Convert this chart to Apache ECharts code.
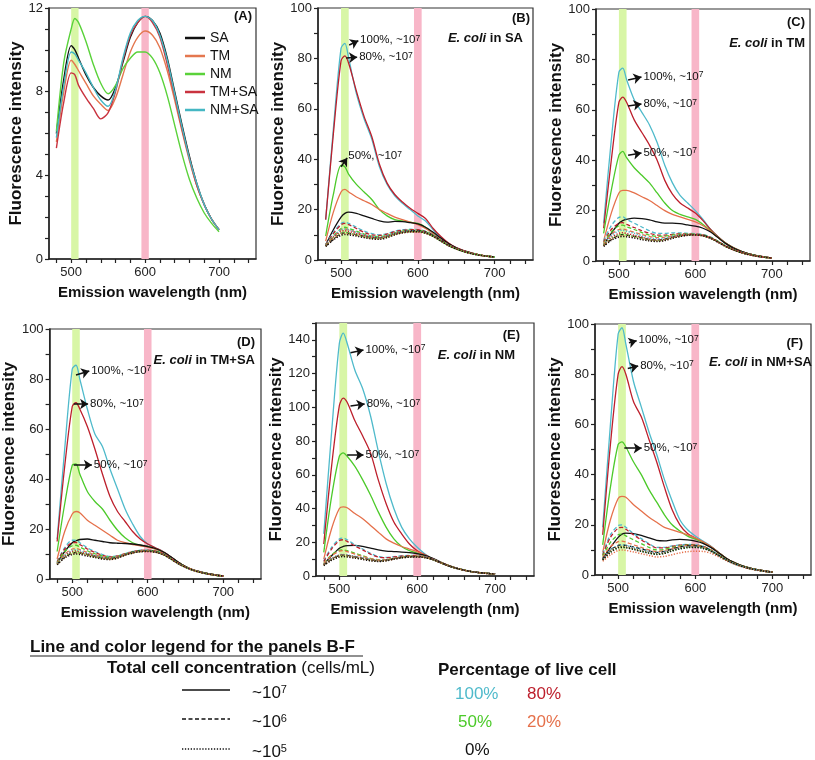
<!DOCTYPE html>
<html><head><meta charset="utf-8">
<script src="https://cdn.jsdelivr.net/npm/echarts@6.0.0/dist/echarts.min.js"></script>
<style>html,body{margin:0;padding:0;background:#fff}#c{width:815px;height:760px}</style>
</head><body><div id="c"></div>
<script>
// ---------- DATA ----------
const wavelength = [480,490,500,505,510,520,530,540,550,560,570,580,590,600,610,620,630,640,650,660,670,680,690,700];
const xTickValues = [480,500,520,540,560,580,600,620,640,660,680,700,720,740];
const xLabelValues = [500,600,700];
const bandGreen = [500,510];
const bandPink = [595,605];

// Panel A
const A_SA   = [6.0,8.6,10.2,10.0,9.6,8.8,8.2,7.8,7.6,8.2,9.4,10.6,11.3,11.6,11.4,10.8,9.6,8.0,6.4,4.9,3.6,2.6,1.9,1.4];
const A_TM   = [5.6,8.0,9.5,9.3,9.0,8.4,7.8,7.4,7.1,7.7,8.8,9.9,10.6,10.9,10.7,10.1,9.0,7.6,6.1,4.7,3.5,2.6,1.9,1.4];
const A_NM   = [6.1,9.4,11.0,11.5,11.3,10.4,9.3,8.4,7.9,8.3,9.1,9.6,9.9,9.9,9.6,8.9,7.8,6.4,5.0,3.8,2.9,2.2,1.7,1.3];
const A_TMSA = [5.3,7.5,8.9,8.8,8.3,7.7,7.2,6.7,7.0,8.0,9.5,10.7,11.3,11.6,11.3,10.6,9.3,7.8,6.2,4.8,3.5,2.6,1.9,1.4];
const A_NMSA = [5.8,8.3,9.9,9.8,9.5,8.9,8.2,7.6,7.3,8.1,9.6,10.8,11.4,11.6,11.4,10.7,9.5,7.9,6.3,4.8,3.6,2.6,1.9,1.4];
const A_names = ['SA','TM','NM','TM+SA','NM+SA'];

// Panel B (E. coli in SA)
const B_c100_s = [16,52,84,86,80,66,56,48,37,30,25.5,22.5,20,17.5,15.5,12,9,6.5,4.8,3.6,2.7,2,1.5,1.2];
const B_r80_s  = [16,50,79,81,78,67,57,49,38,30.5,26,23,20.5,18.5,16.5,12.5,9.3,6.7,4.9,3.7,2.8,2,1.5,1.2];
const B_g50_s  = [9.5,26,37.5,37,34,30,27,24,20,17.5,16,15.5,15,14.5,13,10.5,8.2,6.2,4.6,3.5,2.7,2,1.5,1.2];
const B_o20_s  = [7.5,19,27,28,27,25,23.5,22,20,18.5,17,16,15,14,12.5,10.5,8.2,6.2,4.6,3.5,2.7,2,1.5,1.2];
const B_k0_s   = [6,12,17,18.5,19,18.5,17.5,16.5,15.5,15,15.3,15.2,14.8,14.3,13,11,8.7,6.5,4.8,3.6,2.7,2,1.5,1.2];
const B_c100_d = [6,11,14.5,15,14.5,13,11.5,10.5,10,10.5,11.5,12,12.2,12,11.5,10,8,6,4.6,3.5,2.6,2,1.5,1.2];
const B_r80_d  = [6,10.5,14,14.5,14,12.5,11,10,9.8,10.3,11.3,11.8,12,12,11.3,9.8,7.9,6,4.6,3.5,2.6,2,1.5,1.2];
const B_g50_d  = [5.8,9.5,12.5,13,12.5,11.5,10.3,9.5,9.3,9.8,10.8,11.5,11.8,11.7,11.2,9.7,7.8,5.9,4.5,3.4,2.6,2,1.5,1.2];
const B_o20_d  = [5.8,9,12,12.3,12,11,10,9.3,9,9.6,10.6,11.3,11.6,11.5,11,9.6,7.7,5.9,4.5,3.4,2.6,2,1.5,1.2];
const B_k0_d   = [5.5,8.2,10.5,10.8,10.6,10,9.5,9,8.8,9.5,10.6,11.3,11.6,11.6,11.1,9.7,7.8,5.9,4.5,3.4,2.6,2,1.5,1.2];
const B_c100_t = [5.8,9.5,12,12.3,12,11,10,9.3,9,9.6,10.6,11.2,11.5,11.4,10.9,9.5,7.6,5.8,4.4,3.4,2.6,2,1.5,1.2];
const B_r80_t  = [5.7,9,11.3,11.6,11.3,10.5,9.6,9,8.8,9.4,10.4,11,11.3,11.3,10.8,9.4,7.6,5.8,4.4,3.4,2.6,2,1.5,1.2];
const B_g50_t  = [5.6,8.5,10.6,11,10.7,10,9.3,8.7,8.5,9.2,10.2,10.9,11.2,11.2,10.7,9.4,7.5,5.7,4.4,3.3,2.6,2,1.5,1.2];
const B_o20_t  = [5.5,8.2,10.2,10.5,10.3,9.7,9,8.5,8.3,9,10,10.7,11,11,10.6,9.3,7.5,5.7,4.4,3.3,2.5,1.9,1.5,1.2];
const B_k0_t   = [5.4,8,9.8,10.1,10,9.5,8.9,8.4,8.2,8.9,10,10.8,11.2,11.2,10.7,9.4,7.5,5.7,4.4,3.3,2.5,1.9,1.5,1.2];

// Panel C (E. coli in TM)
const C_c100_s = [15,48,75,76.5,72,64,59,54,47,38,31,26,23,20,16.5,12.5,9.5,7,5.2,3.8,2.8,2.1,1.6,1.2];
const C_r80_s  = [13,40,63,65,63,56,51,46,40,32,26.5,23,21,19,16,12.5,9.5,7,5.2,3.8,2.8,2.1,1.6,1.2];
const C_g50_s  = [11,28,42,43.5,41,37,34,31,27,23,20,18.5,17.5,16.5,14.5,12,9.3,7,5.2,3.8,2.8,2.1,1.6,1.2];
const C_o20_s  = [8,19,27,28,28,27,25.5,24,22,20,18.5,17.5,16.5,15.5,14,11.8,9.3,7,5.2,3.8,2.8,2.1,1.6,1.2];
const C_k0_s   = [6.5,11,15,16,16.5,17,16.8,16.3,15.5,15,15,14.8,14.3,13.8,13,11.5,9.2,6.9,5.1,3.8,2.8,2.1,1.6,1.2];
const C_c100_d = [8,14,17.3,17.5,16.5,15,13.5,12,11,11,11.2,11.2,11,10.8,10.5,9.5,7.8,6,4.6,3.5,2.6,2,1.5,1.2];
const C_r80_d  = [7.5,12.5,15,15.2,14.5,13.3,12,11,10.3,10.3,10.6,10.8,10.8,10.7,10.4,9.4,7.7,5.9,4.6,3.5,2.6,2,1.5,1.2];
const C_g50_d  = [7,11.5,14,14.2,13.6,12.5,11.3,10.3,9.8,9.9,10.3,10.6,10.7,10.6,10.3,9.3,7.7,5.9,4.5,3.4,2.6,2,1.5,1.2];
const C_o20_d  = [6.8,10.5,12.5,12.7,12.3,11.4,10.5,9.7,9.3,9.5,10,10.4,10.6,10.5,10.2,9.2,7.6,5.8,4.5,3.4,2.6,2,1.5,1.2];
const C_k0_d   = [6,8.5,10.3,10.5,10.3,9.8,9.2,8.6,8.3,8.7,9.5,10.2,10.5,10.5,10.2,9.2,7.6,5.8,4.5,3.4,2.6,2,1.5,1.2];
const C_c100_t = [6.5,10,12,12.2,11.8,11,10,9.2,8.8,9,9.7,10.2,10.5,10.5,10.1,9.1,7.5,5.8,4.4,3.4,2.6,2,1.5,1.2];
const C_r80_t  = [6.3,9.3,11,11.2,10.9,10.2,9.4,8.7,8.3,8.6,9.4,10,10.4,10.4,10,9.1,7.5,5.8,4.4,3.4,2.6,2,1.5,1.2];
const C_g50_t  = [6.2,8.8,10.3,10.5,10.3,9.7,9,8.4,8,8.4,9.2,9.9,10.3,10.3,10,9,7.5,5.7,4.4,3.3,2.6,2,1.5,1.2];
const C_o20_t  = [6,8.5,9.8,10,9.8,9.3,8.7,8.1,7.8,8.2,9.1,9.8,10.2,10.3,10,9,7.4,5.7,4.4,3.3,2.5,1.9,1.5,1.2];
const C_k0_t   = [5.8,8.2,9.5,9.7,9.6,9.1,8.5,8,7.7,8.1,9,9.7,10.2,10.3,10,9,7.4,5.7,4.4,3.3,2.5,1.9,1.5,1.2];

// Panel D (E. coli in TM+SA)
const D_c100_s = [16,52,84,85.5,80,68,58,53,44,36,28,22,17,14,12.5,11,9,6.8,5,3.7,2.8,2.1,1.6,1.2];
const D_r80_s  = [15,45,69,70.5,68,61,52,42,33,27,23,19,16,14,12.5,11,9,6.8,5,3.7,2.8,2.1,1.6,1.2];
const D_g50_s  = [11,30,45.5,46,42,35,31,28,23.5,19.5,16.5,14.5,13.5,13,12,10.8,8.9,6.8,5,3.7,2.8,2.1,1.6,1.2];
const D_o20_s  = [8,19,26,27,26.5,23.5,21.5,19.5,17.5,15.5,14.5,13.8,13.3,12.8,12,10.8,8.9,6.8,5,3.7,2.8,2.1,1.6,1.2];
const D_k0_s   = [6.5,11,14.5,15.3,15.8,16,15.5,15,14.5,14.3,14.2,14,13.6,13,12.2,10.9,9,6.8,5,3.7,2.8,2.1,1.6,1.2];
const D_c100_d = [7,12.5,15.5,15.5,14.5,12.5,11,9.8,9,9.3,10.2,11,11.5,11.5,11.2,10.2,8.4,6.4,4.8,3.6,2.7,2,1.5,1.2];
const D_r80_d  = [6.8,12,14.5,14.6,13.8,12,10.6,9.5,8.8,9.2,10.1,10.9,11.4,11.5,11.2,10.2,8.4,6.4,4.8,3.6,2.7,2,1.5,1.2];
const D_g50_d  = [6.5,11,13.3,13.5,12.8,11.3,10.1,9.2,8.6,9,10,10.8,11.3,11.4,11.1,10.1,8.3,6.3,4.7,3.5,2.7,2,1.5,1.2];
const D_o20_d  = [6.3,10,12,12.2,11.8,10.7,9.7,8.9,8.4,8.9,9.9,10.7,11.2,11.3,11,10,8.3,6.3,4.7,3.5,2.7,2,1.5,1.2];
const D_k0_d   = [6,8.8,10.4,10.6,10.4,9.8,9.1,8.5,8.2,8.8,9.8,10.7,11.2,11.3,11,10,8.3,6.3,4.7,3.5,2.7,2,1.5,1.2];
const D_c100_t = [6.2,9.5,11.5,11.7,11.3,10.3,9.4,8.7,8.3,8.8,9.8,10.6,11.1,11.2,10.9,9.9,8.2,6.2,4.7,3.5,2.7,2,1.5,1.2];
const D_r80_t  = [6,9.2,11,11.2,10.8,10,9.2,8.5,8.1,8.7,9.7,10.5,11,11.1,10.8,9.9,8.2,6.2,4.7,3.5,2.7,2,1.5,1.2];
const D_g50_t  = [5.9,8.9,10.5,10.7,10.4,9.7,8.9,8.3,8,8.6,9.6,10.4,11,11.1,10.8,9.8,8.1,6.2,4.7,3.5,2.6,2,1.5,1.2];
const D_o20_t  = [5.8,8.6,10.1,10.3,10.1,9.4,8.7,8.1,7.8,8.4,9.5,10.4,10.9,11,10.7,9.8,8.1,6.2,4.7,3.5,2.6,2,1.5,1.2];
const D_k0_t   = [5.7,8.4,9.8,10,9.8,9.2,8.6,8,7.8,8.4,9.5,10.4,10.9,11,10.7,9.8,8.1,6.2,4.7,3.5,2.6,2,1.5,1.2];

// Panel E (E. coli in NM)
const E_c100_s = [25,85,138,144,138,122,111,95,74,55,40,29,22,17,13,10,8,6.2,4.6,3.5,2.6,2,1.5,1.2];
const E_r80_s  = [19,65,101,105.5,103,92,83,73,57,43,32,25,19,15,12.5,10,8,6.2,4.6,3.5,2.6,2,1.5,1.2];
const E_g50_s  = [14,47,71,73,71,65,57,48,38,29,22,17.5,15,13.5,12,10,8,6.2,4.6,3.5,2.6,2,1.5,1.2];
const E_o20_s  = [10,28,40,41,40.5,37,34,30,26,22,19.5,17.5,16,14.5,12.5,10.3,8.2,6.3,4.7,3.5,2.6,2,1.5,1.2];
const E_k0_s   = [7,12,16.5,17.5,18,18.2,17.5,16.5,15.5,14.8,14.5,14.2,13.8,13.2,12.3,10.5,8.3,6.3,4.7,3.5,2.6,2,1.5,1.2];
const E_c100_d = [9,17,22,22.5,21.5,18.5,16,13.5,11.5,11,11.5,12,12.2,12,11.5,10,8,6.1,4.6,3.5,2.6,2,1.5,1.2];
const E_r80_d  = [8.5,16,21,21.5,20.5,17.8,15.5,13,11.2,10.8,11.3,11.8,12,12,11.4,10,8,6.1,4.6,3.5,2.6,2,1.5,1.2];
const E_g50_d  = [7.5,12.5,15.3,15.5,15,13.5,12,10.5,9.7,9.8,10.6,11.3,11.7,11.7,11.2,9.9,8,6.1,4.6,3.5,2.6,2,1.5,1.2];
const E_o20_d  = [7.3,12,14.7,15,14.5,13,11.6,10.3,9.5,9.7,10.5,11.2,11.6,11.6,11.1,9.9,8,6.1,4.6,3.5,2.6,2,1.5,1.2];
const E_k0_d   = [6.5,10,12.2,12.4,12.2,11.4,10.5,9.6,9,9.4,10.3,11.1,11.5,11.5,11,9.8,7.9,6,4.6,3.5,2.6,2,1.5,1.2];
const E_c100_t = [6.8,10.5,12.5,12.7,12.5,11.7,10.8,9.8,9.2,9.5,10.3,11,11.4,11.4,11,9.8,7.9,6,4.6,3.5,2.6,2,1.5,1.2];
const E_r80_t  = [6.6,10.2,12.2,12.4,12.2,11.4,10.5,9.6,9,9.3,10.2,10.9,11.3,11.4,11,9.8,7.9,6,4.6,3.5,2.6,2,1.5,1.2];
const E_g50_t  = [6.4,9.8,11.8,12,11.8,11,10.2,9.4,8.8,9.2,10.1,10.8,11.3,11.3,10.9,9.7,7.9,6,4.6,3.5,2.6,2,1.5,1.2];
const E_o20_t  = [6.3,9.5,11.5,11.7,11.5,10.8,10,9.2,8.7,9.1,10,10.8,11.2,11.3,10.9,9.7,7.9,6,4.6,3.5,2.6,2,1.5,1.2];
const E_k0_t   = [6.2,9.3,11.3,11.5,11.3,10.6,9.8,9,8.6,9,10,10.8,11.2,11.3,10.9,9.7,7.9,6,4.6,3.5,2.6,2,1.5,1.2];

// Panel F (E. coli in NM+SA)
const F_c100_s = [19,60,96,98.5,92,77,67,57,48,38,29.5,22,18,15.5,13.5,11.5,9,6.7,5,3.7,2.8,2.1,1.6,1.2];
const F_r80_s  = [16,52,80,83,80,69,63,54,45,35,26,20,16.5,14.7,13,11.3,9,6.7,5,3.7,2.8,2.1,1.6,1.2];
const F_g50_s  = [12,35,52,53,51,45,40,34,29,24,20,17.5,15.5,14.3,13,11.2,9,6.7,5,3.7,2.8,2.1,1.6,1.2];
const F_o20_s  = [9,22,30.5,31.3,31,28,25.5,23,21,19,18,17,16,14.8,13.2,11.3,9,6.7,5,3.7,2.8,2.1,1.6,1.2];
const F_k0_s   = [6.5,11,15,16.3,16.7,16.5,15.8,14.8,13.8,13.6,14,14.2,14,13.5,12.6,11,8.9,6.7,5,3.7,2.8,2.1,1.6,1.2];
const F_c100_d = [8.5,16,19.7,20,19,16.5,14.5,12.5,11,11,11.6,12,12.2,12,11.5,10,8,6.1,4.6,3.5,2.6,2,1.5,1.2];
const F_r80_d  = [8,15,18.7,19,18.2,16,14,12.2,10.8,10.8,11.4,11.9,12.1,12,11.4,10,8,6.1,4.6,3.5,2.6,2,1.5,1.2];
const F_g50_d  = [7.5,13,16,16.3,15.6,14,12.5,11,10,10.2,11,11.6,11.9,11.8,11.3,9.9,8,6.1,4.6,3.5,2.6,2,1.5,1.2];
const F_o20_d  = [7,11.3,13.3,13.5,13.1,12,11,10,9.3,9.7,10.6,11.3,11.7,11.7,11.2,9.9,8,6.1,4.6,3.5,2.6,2,1.5,1.2];
const F_k0_d   = [6.5,10,11.8,12,11.8,11.2,10.4,9.6,9,9.4,10.4,11.2,11.6,11.6,11.1,9.8,7.9,6,4.6,3.5,2.6,2,1.5,1.2];
const F_c100_t = [6.5,10,11.7,12,11.8,11,10.2,9.4,8.8,9.2,10.1,10.9,11.3,11.3,10.9,9.7,7.9,6,4.6,3.5,2.6,2,1.5,1.2];
const F_r80_t  = [6.2,9.5,11.2,11.4,11.2,10.5,9.7,9,8.5,8.9,9.9,10.7,11.1,11.2,10.8,9.6,7.8,6,4.6,3.5,2.6,2,1.5,1.2];
const F_g50_t  = [6,9.2,11,11.2,11,10.3,9.5,8.8,8.3,8.7,9.7,10.5,11,11.1,10.7,9.6,7.8,6,4.6,3.5,2.6,2,1.5,1.2];
const F_o20_t  = [5.5,8,9.8,10,9.8,9.2,8.5,7.8,7.2,7.4,8.1,8.8,9.3,9.5,9.4,8.7,7.3,5.7,4.4,3.3,2.5,1.9,1.5,1.2];
const F_k0_t   = [6,9,10.8,11,10.9,10.2,9.4,8.7,8.2,8.6,9.6,10.4,10.9,11,10.6,9.5,7.8,6,4.6,3.5,2.6,2,1.5,1.2];

// Arrow annotations [x1,y1,x2,y2] in data units, for 100%, 80%, 50% (~10^7)
const ann_B = [[510.6,85.3,522.5,87],[506.6,80.2,521,80.5],[500,37,508,40.5]];
const ann_C = [[512,71.8,529.5,73],[512,61.5,529.5,62.3],[512,42,529.5,42.9]];
const ann_D = [[505,81.6,522.6,83.2],[502,70,521,70],[502,45.6,526,45.6]];
const ann_E = [[514.3,132.4,531,134],[514.3,100.8,532.5,102],[510,71.7,531,71.7]];
const ann_F = [[514,92.5,524,93.3],[512.5,82.3,526,83.3],[508,50.5,530.5,50.5]];
const annLabels = ['100%, ~10{s|7}','80%, ~10{s|7}','50%, ~10{s|7}'];

const panelTitles = ['(A)','(B)','(C)','(D)','(E)','(F)'];
const panelMedia = ['', 'SA', 'TM', 'TM+SA', 'NM', 'NM+SA'];
const legendConc = ['~10{s|7}','~10{s|6}','~10{s|5}'];
const legendPct = ['100%','80%','50%','20%','0%'];

// ---------- STYLE / LAYOUT ----------
const FONT = '"Liberation Sans", Arial, Helvetica, sans-serif';
const colA = ['#111111','#e4774f','#5ad23a','#c9333f','#45b7c3'];
const pctColor = {c100:'#4fbacb', r80:'#bd1f2c', g50:'#4cca2a', o20:'#e5704a', k0:'#111111'};
const styleDash = {s:'solid', d:[4,2.5], t:[1.2,1.6]};
const grids = [
  {left:49, top:8, width:207, height:251},
  {left:318, top:8, width:215, height:252},
  {left:596, top:9, width:214, height:252},
  {left:47, top:329, width:214, height:250},
  {left:316, top:323, width:218, height:253},
  {left:595, top:324, width:216, height:251}
];
const yMax = [12,100,100,100,150,100];
const yInt = [1,10,10,10,10,10];
const yLab = [4,20,20,20,20,20];
const yNameGap = [23,29,30,21,27,29];

const panels = {
  1:{c100:[B_c100_s,B_c100_d,B_c100_t], r80:[B_r80_s,B_r80_d,B_r80_t], g50:[B_g50_s,B_g50_d,B_g50_t], o20:[B_o20_s,B_o20_d,B_o20_t], k0:[B_k0_s,B_k0_d,B_k0_t], ann:ann_B},
  2:{c100:[C_c100_s,C_c100_d,C_c100_t], r80:[C_r80_s,C_r80_d,C_r80_t], g50:[C_g50_s,C_g50_d,C_g50_t], o20:[C_o20_s,C_o20_d,C_o20_t], k0:[C_k0_s,C_k0_d,C_k0_t], ann:ann_C},
  3:{c100:[D_c100_s,D_c100_d,D_c100_t], r80:[D_r80_s,D_r80_d,D_r80_t], g50:[D_g50_s,D_g50_d,D_g50_t], o20:[D_o20_s,D_o20_d,D_o20_t], k0:[D_k0_s,D_k0_d,D_k0_t], ann:ann_D},
  4:{c100:[E_c100_s,E_c100_d,E_c100_t], r80:[E_r80_s,E_r80_d,E_r80_t], g50:[E_g50_s,E_g50_d,E_g50_t], o20:[E_o20_s,E_o20_d,E_o20_t], k0:[E_k0_s,E_k0_d,E_k0_t], ann:ann_E},
  5:{c100:[F_c100_s,F_c100_d,F_c100_t], r80:[F_r80_s,F_r80_d,F_r80_t], g50:[F_g50_s,F_g50_d,F_g50_t], o20:[F_o20_s,F_o20_d,F_o20_t], k0:[F_k0_s,F_k0_d,F_k0_t], ann:ann_F}
};

const pts = v => wavelength.map((w,i)=>[w, v[i]]);

const xAxes = [], yAxes = [], series = [];
grids.forEach((g, i) => {
  xAxes.push({
    type:'value', gridIndex:i, min:470, max:750,
    name:'Emission wavelength (nm)', nameLocation:'middle', nameGap:26,
    nameTextStyle:{fontFamily:FONT, fontWeight:'bold', fontSize:15, color:'#111'},
    axisLine:{show:true, onZero:false, lineStyle:{color:'#222', width:1.5}},
    axisTick:{show:true, customValues:xTickValues, length:4, lineStyle:{color:'#222', width:1.2}},
    axisLabel:{customValues:xLabelValues, fontFamily:FONT, fontSize:13, color:'#222', margin:7},
    splitLine:{show:false}
  });
  yAxes.push({
    type:'value', gridIndex:i, min:0, max:yMax[i], interval:yInt[i],
    name:'Fluorescence intensity', nameLocation:'middle', nameGap:yNameGap[i],
    nameTextStyle:{fontFamily:FONT, fontWeight:'bold', fontSize:17, color:'#111'},
    axisLine:{show:true, onZero:false, lineStyle:{color:'#222', width:1.5}},
    axisTick:{show:true, length:4, lineStyle:{color:'#222', width:1.2}},
    axisLabel:{fontFamily:FONT, fontSize:13, color:'#222', margin:6,
      formatter: v => (Math.round(v) % yLab[i] === 0 ? String(v) : '')},
    splitLine:{show:false}
  });
  // bands
  series.push({
    type:'line', xAxisIndex:i, yAxisIndex:i, data:[], z:1, silent:true,
    markArea:{silent:true, data:[
      [{xAxis:bandGreen[0], itemStyle:{color:'#d8f6a6'}}, {xAxis:bandGreen[1]}],
      [{xAxis:bandPink[0], itemStyle:{color:'#f8b6c8'}}, {xAxis:bandPink[1]}]
    ]}
  });
});

// Panel A
[A_SA, A_TM, A_NM, A_TMSA, A_NMSA].forEach((arr, k) => {
  series.push({
    name:A_names[k], type:'line', xAxisIndex:0, yAxisIndex:0, data:pts(arr),
    showSymbol:false, smooth:0.3, z:3,
    lineStyle:{color:colA[k], width:1.4}, itemStyle:{color:colA[k]}
  });
});

// Panels B-F
const keys = ['c100','r80','g50','o20','k0'];
const styleKeys = ['s','d','t'];
Object.keys(panels).forEach(pi => {
  const p = panels[pi];
  const gi = Number(pi);
  styleKeys.forEach((sk, si) => {
    keys.forEach((ck, ci) => {
      const s = {
        name: panelTitles[gi] + ' ' + ck + ' ' + sk, type:'line', xAxisIndex:gi, yAxisIndex:gi,
        data: pts(p[ck][si]), showSymbol:false, smooth:0.3, z:3,
        lineStyle:{color:pctColor[ck], width: sk==='t'?1.5:1.3, type:styleDash[sk]},
        itemStyle:{color:pctColor[ck]}
      };
      if (sk === 's' && ci < 3) {
        const a = p.ann[ci];
        s.markLine = {
          silent:true, symbol:['none','arrow'], symbolSize:8, animation:false, z:6,
          lineStyle:{color:'#111', width:1.5, type:'solid'},
          itemStyle:{color:'#111'},
          label:{show:true, position:'end', distance:2, align:'left', verticalAlign:'middle', formatter:annLabels[ci],
            fontFamily:FONT, fontSize:11.5, color:'#111',
            rich:{s:{fontFamily:FONT, fontSize:8.5, verticalAlign:'top', lineHeight:8, padding:[0,0,6,0]}}},
          data:[[{coord:[a[0],a[1]]},{coord:[a[2],a[3]]}]]
        };
      }
      series.push(s);
    });
  });
});

// ---------- GRAPHICS (panel labels + bottom legend) ----------
const graphic = [];
const lblPos = [[252,16],[530,18],[805,22],[255,342],[520,335],[803,343]];
const medPos = [null,[523,38],[805,43],[255,360],[515,355],[812,362]];
panelTitles.forEach((t, i) => {
  graphic.push({type:'text', x:lblPos[i][0], y:lblPos[i][1], z:10,
    style:{text:t, font:'bold 13px ' + FONT, fill:'#111', align:'right', verticalAlign:'middle'}});
  if (medPos[i]) {
    graphic.push({type:'text', x:medPos[i][0], y:medPos[i][1], z:10,
      style:{text:'{i|E. coli} in ' + panelMedia[i], font:'bold 13px ' + FONT, fill:'#111', align:'right', verticalAlign:'middle',
        rich:{i:{fontStyle:'italic', fontWeight:'bold', fontSize:13, fontFamily:FONT}}}});
  }
});
// legend header
graphic.push({type:'text', x:30, y:647, style:{text:'Line and color legend for the panels B-F', font:'bold 17px ' + FONT, fill:'#111', verticalAlign:'middle'}});
graphic.push({type:'line', shape:{x1:30, y1:656, x2:363, y2:656}, style:{stroke:'#222', lineWidth:1.2}});
graphic.push({type:'text', x:107, y:668, style:{text:'{b|Total cell concentration} (cells/mL)', font:'17px ' + FONT, fill:'#111', verticalAlign:'middle',
  rich:{b:{fontWeight:'bold', fontSize:17, fontFamily:FONT}}}});
graphic.push({type:'text', x:438, y:670, style:{text:'Percentage of live cell', font:'bold 17px ' + FONT, fill:'#111', verticalAlign:'middle'}});
const concY = [690,719,749];
const concDash = [null,[4,2.5],[1.3,1.6]];
concY.forEach((y, k) => {
  graphic.push({type:'line', shape:{x1:182, y1:y, x2:230, y2:y}, style:{stroke:'#111', lineWidth:1.6, lineDash:concDash[k]}});
  graphic.push({type:'text', x:252, y:y+3, style:{text:legendConc[k], font:'17px ' + FONT, fill:'#111', verticalAlign:'middle',
    rich:{s:{fontSize:11, fontFamily:FONT, verticalAlign:'top', lineHeight:11, padding:[0,0,8,0]}}}});
});
const pctPos = [[455,694],[527,694],[458,722],[527,722],[465,750]];
const pctCol = [pctColor.c100, pctColor.r80, pctColor.g50, pctColor.o20, pctColor.k0];
legendPct.forEach((t, k) => {
  graphic.push({type:'text', x:pctPos[k][0], y:pctPos[k][1], style:{text:t, font:'17px ' + FONT, fill:pctCol[k], verticalAlign:'middle'}});
});

const chart = echarts.init(document.getElementById('c'), null, {renderer:'canvas'});
chart.setOption({
  animation:false,
  backgroundColor:'#fff',
  textStyle:{fontFamily:FONT},
  grid: grids.map(g => Object.assign({show:true, borderColor:'#333', borderWidth:1.2, backgroundColor:'transparent'}, g)),
  xAxis:xAxes, yAxis:yAxes,
  legend:{data:A_names, orient:'vertical', left:180, top:26, icon:'rect', itemWidth:20, itemHeight:2.5, itemGap:4,
    textStyle:{fontFamily:FONT, fontSize:14, color:'#111', lineHeight:13}, selectedMode:false},
  series:series,
  graphic:graphic
});
</script></body></html>
